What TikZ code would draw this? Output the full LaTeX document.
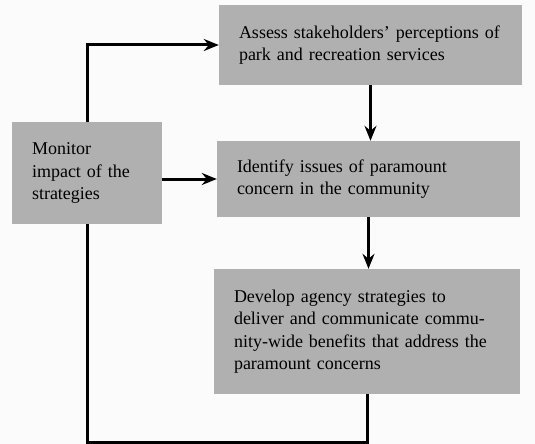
\documentclass[tikz,border=0pt]{standalone}
\usepackage{fontspec}
\setmainfont{Liberation Serif}
\usetikzlibrary{arrows.meta}
\definecolor{boxgray}{gray}{0.69}
\definecolor{paper}{gray}{0.985}
\begin{document}
\begin{tikzpicture}[x=1pt,y=-1pt,
    stage/.style={fill=boxgray,inner xsep=20pt,align=left,
      font=\fontsize{18}{22.5}\selectfont},
    link/.style={line width=3pt},
    flow/.style={link,-{Stealth[length=15pt,width=12pt,inset=5pt]}}]
  \fill[paper] (0,0) rectangle (535,444);
  \node[stage,minimum width=150pt,minimum height=102pt,text width=110pt] (mon) at (87,173)
    {Monitor\\impact of the\\strategies};
  \node[stage,minimum width=303pt,minimum height=80pt,text width=263pt] (ass) at (370.5,45)
    {Assess stakeholders’ perceptions of\\park and recreation services};
  \node[stage,minimum width=303pt,minimum height=76pt,text width=263pt] (ide) at (368.5,179)
    {Identify issues of paramount\\concern in the community};
  \node[stage,minimum width=306pt,minimum height=125pt,text width=266pt] (dev) at (367,331.5)
    {Develop agency strategies to\\deliver and communicate commu-\\nity-wide benefits that address the\\paramount concerns};
  \draw[flow] (ass.south) -- (ass.south |- ide.north);
  \draw[flow] (ide.south) -- (ide.south |- dev.north);
  \draw[flow] (mon.east |- ide.west) -- (ide.west);
  \draw[link] (dev.south) -- ++(0,48) -| (mon.south); % back to monitoring
  \draw[flow] (mon.north) |- (ass.west);
\end{tikzpicture}
\end{document}
